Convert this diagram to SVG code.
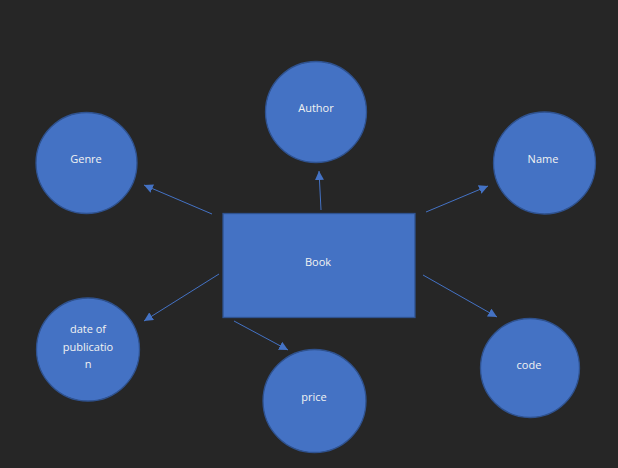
<svg xmlns="http://www.w3.org/2000/svg" width="618" height="468" viewBox="0 0 618 468">
<style>
.n{fill:#4472C4;stroke:#2F528F;stroke-width:1.3}
.t{fill:#F2F2F2;font-family:"Open Sans","Liberation Sans",sans-serif;font-size:11px;text-anchor:middle}
.c{stroke:#4472C4;stroke-width:1;fill:none;marker-end:url(#ah)}
</style>
<defs>
<marker id="ah" viewBox="0 0 10 10" refX="10" refY="5" markerWidth="9" markerHeight="9" markerUnits="userSpaceOnUse" orient="auto">
<path d="M0,0 L10,5 L0,10 z" fill="#4472C4"/>
</marker>
</defs>
<rect width="618" height="468" fill="#262626"/>
<g id="connectors">
<line class="c" x1="212" y1="214" x2="144" y2="185"/>
<line class="c" x1="321" y1="210" x2="319" y2="171"/>
<line class="c" x1="426" y1="212" x2="488" y2="186"/>
<line class="c" x1="423" y1="275" x2="497" y2="317"/>
<line class="c" x1="234" y1="321" x2="288" y2="350"/>
<line class="c" x1="219" y1="274" x2="144" y2="321"/>
</g>
<g id="book">
<rect class="n" x="223" y="213.5" width="192" height="104"/>
<text class="t" x="318" y="266">Book</text>
</g>
<g id="genre">
<circle class="n" cx="86.5" cy="163" r="50.5"/>
<text class="t" x="86" y="163">Genre</text>
</g>
<g id="author">
<circle class="n" cx="316" cy="112" r="50.5"/>
<text class="t" x="316" y="112">Author</text>
</g>
<g id="name">
<circle class="n" cx="544.5" cy="163" r="51"/>
<text class="t" x="543" y="163">Name</text>
</g>
<g id="code">
<circle class="n" cx="530" cy="368" r="49.5"/>
<text class="t" x="529" y="369">code</text>
</g>
<g id="price">
<circle class="n" cx="314.5" cy="401" r="51.5"/>
<text class="t" x="314" y="401">price</text>
</g>
<g id="date">
<circle class="n" cx="88" cy="349.5" r="51.5"/>
<text class="t" x="88" y="333">date of</text>
<text class="t" x="88" y="350.5">publicatio</text>
<text class="t" x="88" y="367.5">n</text>
</g>
</svg>
